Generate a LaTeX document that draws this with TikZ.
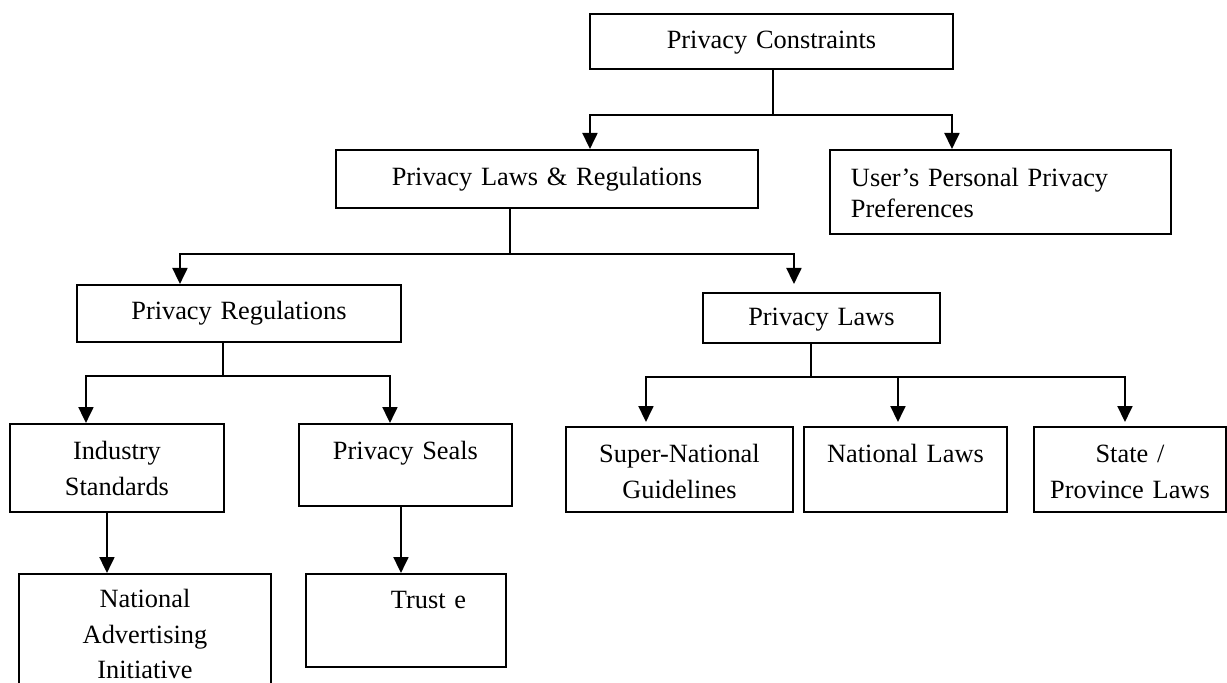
\documentclass[tikz,border=0pt]{standalone}
\usepackage{fontspec}
\setmainfont{Liberation Serif}
\usetikzlibrary{arrows.meta,positioning}
\tikzset{
  box/.style={draw, line width=1.1pt, anchor=north west, inner xsep=0pt, inner ysep=0pt,
    align=center, font=\fontsize{15pt}{20pt}\selectfont},
  link/.style={line width=1.1pt},
  arr/.style={link, -{Triangle[length=0.32cm, width=0.30cm]}}
}

\begin{document}
\begin{tikzpicture}
  \fill[white] (0,0) rectangle (24.54,-13.66);
  \useasboundingbox (0,0) rectangle (24.54,-13.66);

  \node[box, text width=7.26cm, text height=0.70cm, text depth=0.40cm] (pc) at (11.78,-0.26) {Privacy Constraints};
  \node[box, text width=8.44cm, text height=0.72cm, text depth=0.44cm] (plr) at (6.70,-2.98) {Privacy Laws \& Regulations};
  \node[box, align=left, inner xsep=0.42cm, text width=5.98cm, text height=0.74cm, text depth=0.94cm] (user) at (16.58,-2.98) {User’s Personal Privacy\\[-0.1cm]Preferences};
  \node[box, text width=6.48cm, text height=0.70cm, text depth=0.44cm] (preg) at (1.52,-5.68) {Privacy Regulations};
  \node[box, text width=4.74cm, text height=0.66cm, text depth=0.34cm] (plaws) at (14.04,-5.84) {Privacy Laws};
  \node[box, text width=4.28cm, text height=0.72cm, text depth=1.04cm] (ind) at (0.18,-8.46) {Industry\\Standards};
  \node[box, text width=4.26cm, text height=0.72cm, text depth=0.92cm] (seals) at (5.96,-8.46) {Privacy Seals};
  \node[box, text width=4.54cm, text height=0.72cm, text depth=0.98cm] (supnat) at (11.30,-8.52) {Super-National\\Guidelines};
  \node[box, text width=4.06cm, text height=0.72cm, text depth=0.98cm] (natl) at (16.06,-8.52) {National Laws};
  \node[box, text width=3.84cm, text height=0.72cm, text depth=0.98cm] (state) at (20.66,-8.52) {State /\\Province Laws};
  \node[box, text width=5.04cm, text height=0.68cm, text depth=1.86cm] (nai) at (0.36,-11.46) {National\\Advertising\\Initiative};
  \node[box, align=left, text width=4.00cm, text height=0.70cm, text depth=1.16cm] (trust) at (6.10,-11.46) {\hspace*{1.70cm}Trust e};

  \coordinate (j1) at (15.46,-2.30);
  \draw[link] (pc.south -| j1) -- (j1);
  \draw[arr] (j1) -| ([xshift=0.86cm]plr.north);
  \draw[arr] (j1) -| ([xshift=-0.97cm]user.north);

  \coordinate (j2) at (10.20,-5.08);
  \draw[link] (plr.south -| j2) -- (j2);
  \draw[arr] (j2) -| ([xshift=-1.18cm]preg.north);
  \draw[arr, shorten >=0.16cm] (j2) -| ([xshift=-0.55cm]plaws.north);

  \coordinate (j3) at (4.46,-7.52);
  \draw[link] (preg.south -| j3) -- (j3);
  \draw[arr] (j3) -| ([xshift=-0.62cm]ind.north);
  \draw[arr] (j3) -| ([xshift=-0.31cm]seals.north);

  \coordinate (j4) at (16.22,-7.54);
  \draw[link] (plaws.south -| j4) -- (j4);
  \draw[arr, shorten >=0.08cm] (j4) -| ([xshift=-0.67cm]supnat.north);
  \draw[arr, shorten >=0.08cm] (j4) -| ([xshift=-0.15cm]natl.north);
  \draw[arr, shorten >=0.08cm] (j4) -| ([xshift=-0.10cm]state.north);

  \coordinate (a1) at ([xshift=-0.20cm]ind.south);
  \draw[arr] (a1) -- (a1 |- nai.north);
  \coordinate (a2) at ([xshift=-0.09cm]seals.south);
  \draw[arr] (a2) -- (a2 |- trust.north);
\end{tikzpicture}
\end{document}
